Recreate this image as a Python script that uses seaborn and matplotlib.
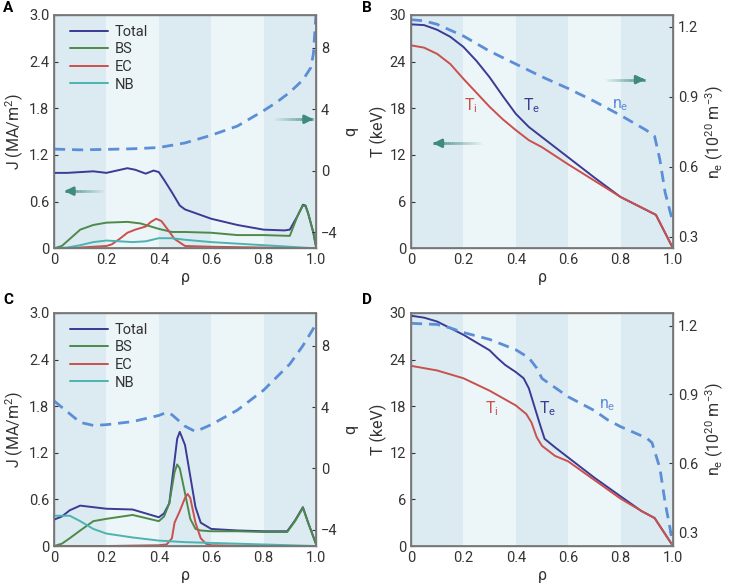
import numpy as np
import pandas as pd
import seaborn as sns
from matplotlib import pyplot as plt

# ---- panel A: current density and q ----
rho_a_total = [0, 0.05, 0.1, 0.15, 0.2, 0.24, 0.28, 0.31, 0.35, 0.38, 0.4, 0.42, 0.45, 0.48, 0.5,
               0.6, 0.7, 0.8, 0.88, 0.9, 0.93, 0.95, 0.96, 0.97, 0.99, 1.0]
j_a_total = [0.97, 0.97, 0.98, 0.99, 0.97, 1.0, 1.03, 1.01, 0.96, 1.0, 0.98, 0.88, 0.72, 0.55, 0.5,
             0.38, 0.3, 0.24, 0.23, 0.24, 0.42, 0.56, 0.55, 0.45, 0.2, 0.02]
rho_a_bs = [0, 0.03, 0.06, 0.1, 0.15, 0.2, 0.28, 0.33, 0.4, 0.45, 0.5, 0.6, 0.7, 0.8, 0.9,
            0.93, 0.95, 0.96, 0.97, 0.99, 1.0]
j_a_bs = [0, 0.03, 0.12, 0.24, 0.3, 0.33, 0.34, 0.32, 0.25, 0.21, 0.21, 0.2, 0.17, 0.17, 0.16,
          0.42, 0.55, 0.54, 0.45, 0.2, 0.02]
rho_a_ec = [0, 0.1, 0.2, 0.22, 0.25, 0.28, 0.31, 0.35, 0.37, 0.39, 0.41, 0.43, 0.46, 0.5, 0.6, 0.8, 1.0]
j_a_ec = [0, 0.01, 0.03, 0.05, 0.12, 0.2, 0.24, 0.28, 0.34, 0.38, 0.35, 0.26, 0.12, 0.03, 0.02, 0.01, 0]
rho_a_nb = [0, 0.05, 0.1, 0.15, 0.2, 0.25, 0.3, 0.35, 0.4, 0.45, 0.5, 0.6, 0.7, 0.8, 0.9, 1.0]
j_a_nb = [0, 0.01, 0.04, 0.08, 0.1, 0.09, 0.08, 0.09, 0.13, 0.13, 0.11, 0.08, 0.06, 0.04, 0.02, 0.0]
rho_a_q = [0, 0.1, 0.2, 0.3, 0.4, 0.5, 0.6, 0.7, 0.8, 0.85, 0.9, 0.95, 0.98, 0.99, 1.0]
q_a = [1.4, 1.35, 1.38, 1.42, 1.5, 1.8, 2.3, 2.9, 3.9, 4.45, 5.1, 5.9, 6.7, 7.6, 10.2]

# ---- panel B: temperatures and density ----
rho_b_t = [0, 0.05, 0.1, 0.15, 0.2, 0.25, 0.3, 0.35, 0.4, 0.45, 0.5, 0.6, 0.7, 0.8, 0.9, 0.935, 1.0]
te_b = [28.8, 28.7, 28.1, 27.2, 25.9, 24.1, 22.0, 19.6, 17.3, 15.6, 14.3, 11.7, 9.1, 6.6, 4.9, 4.3, 0]
ti_b = [26.1, 25.8, 25.0, 23.7, 21.8, 20.0, 18.2, 16.6, 15.2, 13.9, 13.0, 10.8, 8.7, 6.6, 4.9, 4.3, 0]
rho_b_ne = [0, 0.05, 0.1, 0.2, 0.3, 0.4, 0.5, 0.6, 0.7, 0.8, 0.9, 0.93, 0.95, 0.97, 1.0]
ne_b = [1.23, 1.225, 1.21, 1.16, 1.095, 1.04, 0.985, 0.935, 0.88, 0.82, 0.755, 0.73, 0.63, 0.49, 0.36]

# ---- panel C ----
rho_c = [0, 0.03, 0.06, 0.1, 0.15, 0.2, 0.3, 0.35, 0.4, 0.42, 0.44, 0.46, 0.47, 0.48, 0.5,
         0.52, 0.54, 0.56, 0.6, 0.7, 0.8, 0.89, 0.92, 0.95, 0.97, 1.0]
j_c_total = [0.34, 0.38, 0.46, 0.52, 0.5, 0.48, 0.47, 0.42, 0.37, 0.42, 0.55, 1.1, 1.38, 1.47, 1.3,
             0.9, 0.5, 0.3, 0.22, 0.2, 0.19, 0.19, 0.33, 0.5, 0.3, 0.03]
j_c_bs = [0, 0.03, 0.1, 0.2, 0.32, 0.35, 0.4, 0.36, 0.32, 0.38, 0.55, 0.95, 1.05, 1.0, 0.68,
          0.35, 0.22, 0.2, 0.19, 0.19, 0.18, 0.18, 0.32, 0.49, 0.3, 0.02]
rho_c_ec = [0, 0.2, 0.4, 0.43, 0.45, 0.46, 0.48, 0.5, 0.51, 0.52, 0.54, 0.56, 0.58, 0.6, 0.8, 1.0]
j_c_ec = [0, 0.0, 0.01, 0.02, 0.1, 0.3, 0.45, 0.62, 0.67, 0.62, 0.3, 0.1, 0.03, 0.01, 0, 0]
rho_c_nb = [0, 0.03, 0.06, 0.1, 0.15, 0.2, 0.3, 0.4, 0.5, 0.6, 0.7, 0.8, 0.9, 1.0]
j_c_nb = [0.39, 0.39, 0.39, 0.32, 0.22, 0.16, 0.11, 0.07, 0.05, 0.04, 0.03, 0.02, 0.01, 0.0]
rho_c_q = [0, 0.05, 0.1, 0.15, 0.2, 0.3, 0.4, 0.43, 0.45, 0.5, 0.54, 0.6, 0.7, 0.8, 0.9, 0.95, 1.0]
q_c = [4.4, 3.7, 3.0, 2.8, 2.85, 3.05, 3.45, 3.65, 3.5, 2.75, 2.4, 2.85, 3.8, 5.1, 6.8, 8.0, 9.4]

# ---- panel D ----
rho_d_te = [0, 0.05, 0.1, 0.2, 0.3, 0.33, 0.36, 0.4, 0.43, 0.45, 0.47, 0.49, 0.51, 0.55, 0.6,
            0.7, 0.8, 0.88, 0.93, 1.0]
te_d = [29.65, 29.4, 28.9, 27.2, 25.2, 24.2, 23.3, 22.4, 21.6, 20.3, 18.1, 15.9, 13.8, 12.7, 11.4,
        8.8, 6.4, 4.5, 3.6, 0]
rho_d_ti = [0, 0.1, 0.2, 0.3, 0.4, 0.44, 0.46, 0.48, 0.5, 0.55, 0.6, 0.7, 0.8, 0.88, 0.93, 1.0]
ti_d = [23.2, 22.6, 21.6, 20.0, 18.1, 17.0, 15.9, 14.0, 12.9, 11.6, 10.9, 8.5, 6.1, 4.5, 3.6, 0]
rho_d_ne = [0, 0.1, 0.15, 0.2, 0.3, 0.4, 0.45, 0.48, 0.5, 0.55, 0.6, 0.7, 0.75, 0.8, 0.9, 0.92,
            0.95, 0.97, 0.99, 1.0]
ne_d = [1.21, 1.205, 1.19, 1.17, 1.14, 1.095, 1.06, 1.015, 0.97, 0.93, 0.89, 0.83, 0.79, 0.76, 0.71,
        0.69, 0.58, 0.43, 0.31, 0.24]

components = ["Total", "BS", "EC", "NB"]
palette = {"Total": "#3b3a94", "BS": "#4d8a4a", "EC": "#c9504c", "NB": "#4db3b0"}
dash_color = "#5b8ed6"
arrow_color = "#3f8a7f"
band_dark = "#dcebf2"
band_light = "#ecf5f8"
text_color = "#333333"

sns.set_theme(style="white")
plt.rcParams["font.family"] = ["Roboto", "DejaVu Sans"]
plt.rcParams["mathtext.fontset"] = "custom"
plt.rcParams["mathtext.rm"] = "Roboto"
plt.rcParams["mathtext.it"] = "Roboto:italic"
plt.rcParams["mathtext.bf"] = "Roboto:bold"


def long_frame(series):
    rows = []
    for name, xs, ys in series:
        for x, y in zip(xs, ys):
            rows.append({"rho": x, "value": y, "series": name})
    return pd.DataFrame(rows)


def style_axes(ax):
    ax.set_facecolor(band_light)
    for lo in (0.0, 0.4, 0.8):
        ax.axvspan(lo, lo + 0.2, color=band_dark, lw=0, zorder=0)
    for s in ax.spines.values():
        s.set_color("#777777")
        s.set_linewidth(1.0)
    ax.tick_params(colors=text_color, labelsize=10.5, length=3, width=0.8, direction="in")


def fade_arrow(ax, x_tail, x_head, y):
    n = 24
    xs = np.linspace(x_tail, x_head, n + 1)
    for i in range(n):
        ax.plot(xs[i:i + 2], [y, y], transform=ax.transAxes, color=arrow_color,
                alpha=(i + 1) / n, lw=2, solid_capstyle="butt", zorder=5)
    ax.annotate("", xy=(x_head, y), xytext=(x_head - 0.02 * np.sign(x_head - x_tail), y),
                xycoords="axes fraction",
                arrowprops=dict(arrowstyle="-|>,head_length=0.4,head_width=0.2",
                                color=arrow_color, lw=2, shrinkA=0, shrinkB=0), zorder=6)


def current_panel(ax, series, rho_q, q):
    style_axes(ax)
    df = long_frame(series)
    sns.lineplot(data=df, x="rho", y="value", hue="series", hue_order=components,
                 palette=palette, lw=1.4, ax=ax, estimator=None, sort=True, zorder=3)
    ax.set_xlim(0, 1)
    ax.set_ylim(0, 3.0)
    ax.set_yticks([0, 0.6, 1.2, 1.8, 2.4, 3.0])
    ax.set_yticklabels(["0", "0.6", "1.2", "1.8", "2.4", "3.0"])
    ax.set_xticks([0, 0.2, 0.4, 0.6, 0.8, 1.0])
    ax.set_xticklabels(["0", "0.2", "0.4", "0.6", "0.8", "1.0"])
    ax.set_xlabel("ρ", fontsize=11.5, color=text_color, labelpad=2)
    ax.set_ylabel("J (MA/m$^2$)", fontsize=11.5, color=text_color, labelpad=2)
    leg = ax.legend(loc="upper left", bbox_to_anchor=(0.01, 1.015), frameon=False, fontsize=10.5,
                    handlelength=2.6, labelspacing=0.25, handletextpad=0.5)
    for t in leg.get_texts():
        t.set_color(text_color)

    ax2 = ax.twinx()
    sns.lineplot(x=rho_q, y=q, ax=ax2, color=dash_color, lw=2, linestyle=(0, (4, 2.5)))
    ax2.set_ylim(-5.06, 10.13)
    ax2.set_yticks([-4, 0, 4, 8])
    ax2.set_ylabel("q", fontsize=11.5, color=text_color, labelpad=4)
    ax2.tick_params(colors=text_color, labelsize=10.5, length=3, width=0.8, direction="in")
    for s in ax2.spines.values():
        s.set_color("#777777")
    return ax2


def temp_panel(ax, rho_te, te, rho_ti, ti, rho_ne, ne, ne_lim):
    style_axes(ax)
    df = long_frame([("Te", rho_te, te), ("Ti", rho_ti, ti)])
    sns.lineplot(data=df, x="rho", y="value", hue="series",
                 palette={"Te": palette["Total"], "Ti": palette["EC"]},
                 lw=1.4, ax=ax, estimator=None, legend=False, zorder=3)
    ax.set_xlim(0, 1)
    ax.set_ylim(0, 30)
    ax.set_yticks([0, 6, 12, 18, 24, 30])
    ax.set_xticks([0, 0.2, 0.4, 0.6, 0.8, 1.0])
    ax.set_xticklabels(["0", "0.2", "0.4", "0.6", "0.8", "1.0"])
    ax.set_xlabel("ρ", fontsize=11.5, color=text_color, labelpad=2)
    ax.set_ylabel("T (keV)", fontsize=11.5, color=text_color, labelpad=2)

    ax2 = ax.twinx()
    sns.lineplot(x=rho_ne, y=ne, ax=ax2, color=dash_color, lw=2, linestyle=(0, (4, 2.5)))
    ax2.set_ylim(*ne_lim)
    ax2.set_yticks([0.3, 0.6, 0.9, 1.2])
    ax2.set_ylabel("n$_\\mathrm{e}$ (10$^{20}$ m$^{-3}$)", fontsize=11.5, color=text_color, labelpad=4)
    ax2.tick_params(colors=text_color, labelsize=10.5, length=3, width=0.8, direction="in")
    for s in ax2.spines.values():
        s.set_color("#777777")
    return ax2


fig = plt.figure(figsize=(7.31, 5.88), dpi=100)
ax_a = fig.add_axes([0.0739, 0.5777, 0.3584, 0.3968])
ax_b = fig.add_axes([0.5622, 0.5777, 0.3584, 0.3968])
ax_c = fig.add_axes([0.0739, 0.0714, 0.3584, 0.3963])
ax_d = fig.add_axes([0.5622, 0.0714, 0.3584, 0.3963])

current_panel(ax_a, [("Total", rho_a_total, j_a_total), ("BS", rho_a_bs, j_a_bs),
                     ("EC", rho_a_ec, j_a_ec), ("NB", rho_a_nb, j_a_nb)], rho_a_q, q_a)
fade_arrow(ax_a, 0.19, 0.04, 0.245)
fade_arrow(ax_a, 0.84, 0.99, 0.553)

current_panel(ax_c, [("Total", rho_c, j_c_total), ("BS", rho_c, j_c_bs),
                     ("EC", rho_c_ec, j_c_ec), ("NB", rho_c_nb, j_c_nb)], rho_c_q, q_c)

temp_panel(ax_b, rho_b_t, te_b, rho_b_t, ti_b, rho_b_ne, ne_b, (0.25, 1.25))
fade_arrow(ax_b, 0.27, 0.084, 0.45)
fade_arrow(ax_b, 0.74, 0.893, 0.723)
ax_b.text(0.23, 18.4, "T$_\\mathrm{i}$", color=palette["EC"], fontsize=11.5, ha="center", va="center")
ax_b.text(0.46, 18.4, "T$_\\mathrm{e}$", color=palette["Total"], fontsize=11.5, ha="center", va="center")
ax_b.text(0.80, 18.4, "n$_\\mathrm{e}$", color=dash_color, fontsize=11.5, ha="center", va="center")

temp_panel(ax_d, rho_d_te, te_d, rho_d_ti, ti_d, rho_d_ne, ne_d, (0.24, 1.255))
ax_d.text(0.31, 17.7, "T$_\\mathrm{i}$", color=palette["EC"], fontsize=11.5, ha="center", va="center")
ax_d.text(0.52, 17.7, "T$_\\mathrm{e}$", color=palette["Total"], fontsize=11.5, ha="center", va="center")
ax_d.text(0.75, 18.1, "n$_\\mathrm{e}$", color=dash_color, fontsize=11.5, ha="center", va="center")

for label, x, y in [("A", 3, 8), ("B", 362, 8), ("C", 3, 300), ("D", 362, 300)]:
    fig.text(x / 731, 1 - y / 588, label, fontsize=11, fontweight="bold", color="black",
             ha="left", va="center")

fig.savefig("out.png", dpi=100)
